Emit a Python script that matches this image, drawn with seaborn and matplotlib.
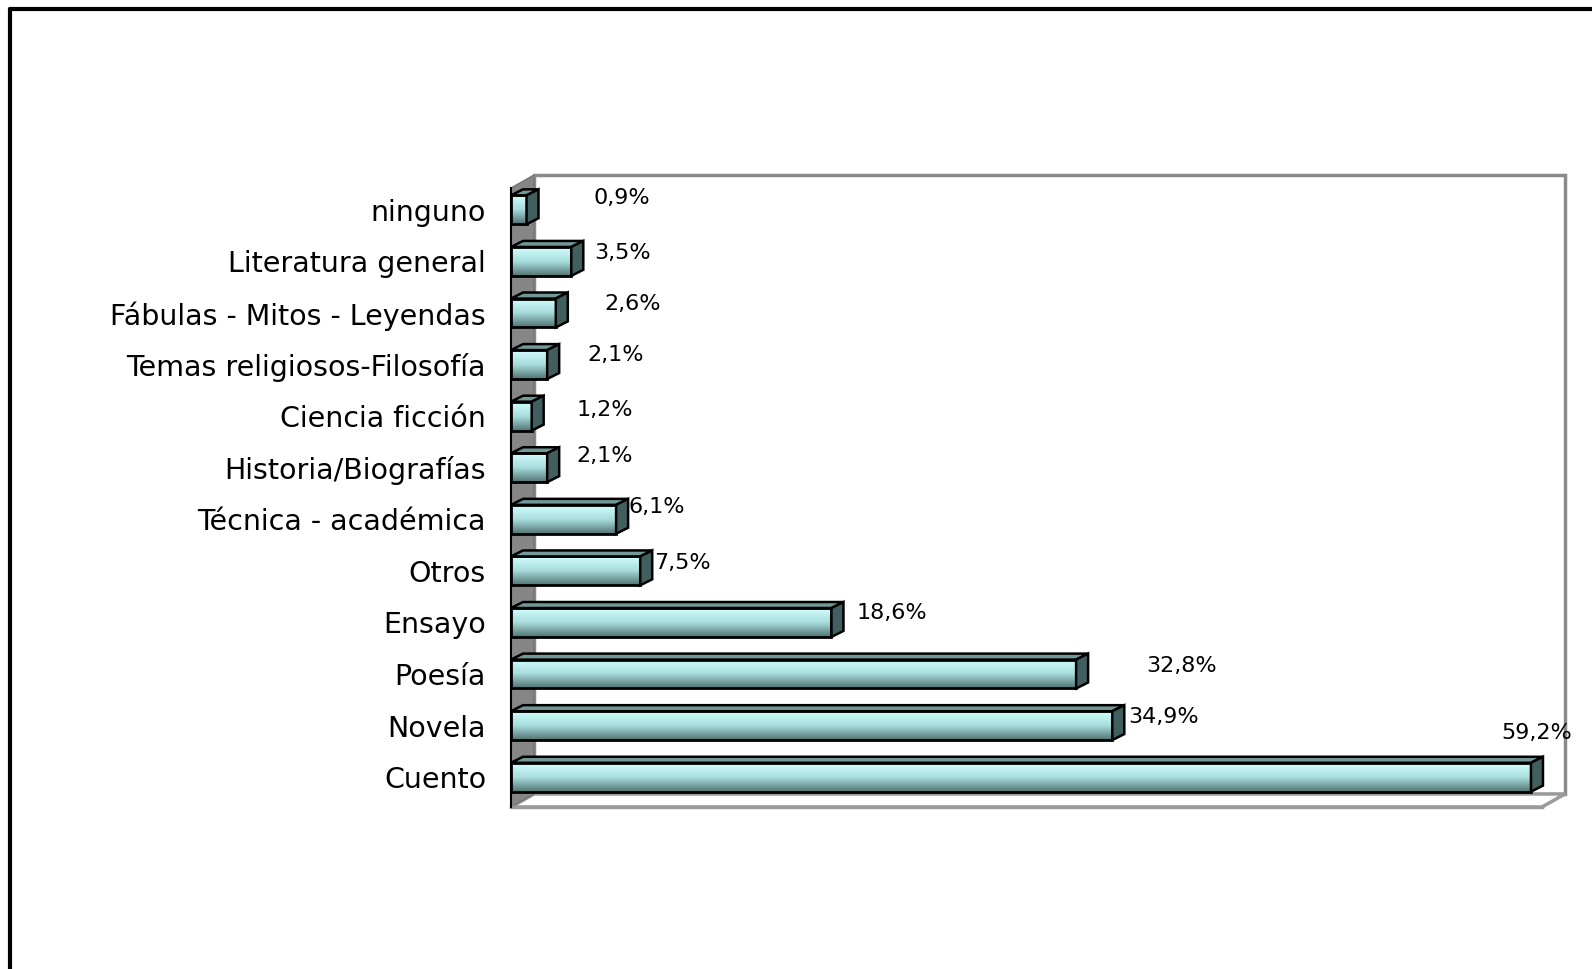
import numpy as np
import pandas as pd
import matplotlib.pyplot as plt
import matplotlib.colors as mcolors
from matplotlib.patches import Polygon
from matplotlib.lines import Line2D
import seaborn as sns

# dados (de cima para baixo, como no gráfico)
categorias = ["ninguno", "Literatura general", "Fábulas - Mitos - Leyendas",
              "Temas religiosos-Filosofía", "Ciencia ficción", "Historia/Biografías",
              "Técnica - académica", "Otros", "Ensayo", "Poesía", "Novela", "Cuento"]
porcentajes = [0.9, 3.5, 2.6, 2.1, 1.2, 2.1, 6.1, 7.5, 18.6, 32.8, 34.9, 59.2]

# deslocamento dos rótulos de valor (pixels), como estão na imagem original
rot_dx = [67, 23, 49, 40, 45, 29, 12, 14, 25, 70, 16, -30]
rot_dy = [12, 8, 9, 10, 6, 12, 12, 8, 9, 8, 9, 44]

df = pd.DataFrame({"categoria": categorias, "pct": porcentajes})

sns.set_theme(style="white")
plt.rcParams["font.family"] = ["DejaVu Sans"]

W, H = 1592, 969
fig = plt.figure(figsize=(W / 100, H / 100), dpi=100)
fig.patch.set_facecolor("white")

# área do gráfico em pixels: x 511..1542, y 188..807
ax = fig.add_axes([511 / W, 1 - 807 / H, (1542 - 511) / W, (807 - 188) / H])
ax.patch.set_visible(False)

XMAX = 59.84
Y_TOP, Y_BOT = -0.5 + 0.0775, 11.5 + 0.0775
px_x = (1542 - 511) / XMAX
px_y = (807 - 188) / 12
wx, wy = 23 / px_x, -13 / px_y     # profundidade das paredes
bx, by = 12 / px_x, -6 / px_y      # profundidade das barras

sns.barplot(data=df, x="pct", y="categoria", order=categorias, orient="h",
            width=0.56, color="white", edgecolor="black", linewidth=2, ax=ax)
barras = list(ax.patches)

# paredes 3D
parede_fundo = Polygon([(wx, Y_TOP + wy), (XMAX + wx, Y_TOP + wy),
                        (XMAX + wx, Y_BOT + wy), (wx, Y_BOT + wy)],
                       facecolor="white", edgecolor="#8a8a8a", lw=2.5, clip_on=False, zorder=0)
chao = Polygon([(0, Y_BOT), (XMAX, Y_BOT), (XMAX + wx, Y_BOT + wy), (wx, Y_BOT + wy)],
               facecolor="white", edgecolor="#9a9a9a", lw=2.5, clip_on=False, zorder=0.5)
parede_esq = Polygon([(0, Y_BOT), (0, Y_TOP), (wx, Y_TOP + wy), (wx, Y_BOT + wy)],
                     facecolor="#868686", edgecolor="#767676", lw=1, clip_on=False, zorder=0.6)
for p in (parede_fundo, chao, parede_esq):
    ax.add_patch(p)

# gradiente da face frontal
cmap = mcolors.LinearSegmentedColormap.from_list("barra", ["#d2fefe", "#a8dcdc", "#527474"])
grad = np.linspace(0, 1, 64).reshape(-1, 1)

for patch, v, dx, dy in zip(barras, porcentajes, rot_dx, rot_dy):
    w = patch.get_width()
    y0 = patch.get_y()
    h = patch.get_height()
    patch.set_facecolor("none")
    patch.set_zorder(4)
    im = ax.imshow(grad, cmap=cmap, extent=(0, w, y0 + h, y0), origin="upper",
                   aspect="auto", zorder=3, interpolation="bilinear")
    im.set_clip_path(patch)
    topo = Polygon([(0, y0), (w, y0), (w + bx, y0 + by), (bx, y0 + by)],
                   facecolor="#739898", edgecolor="black", lw=1.8, zorder=4, clip_on=False)
    lado = Polygon([(w, y0), (w + bx, y0 + by), (w + bx, y0 + h + by), (w, y0 + h)],
                   facecolor="#425f5f", edgecolor="black", lw=1.8, zorder=4, clip_on=False)
    ax.add_patch(topo)
    ax.add_patch(lado)
    ax.annotate(f"{v:.1f}%".replace(".", ","), xy=(w, y0 + h / 2),
                xytext=(dx, dy), textcoords="offset pixels",
                ha="left", va="center", fontsize=16, color="black",
                zorder=6, annotation_clip=False)

ax.set_xlim(0, XMAX)
ax.set_ylim(Y_BOT, Y_TOP)
ax.set_xticks([])
ax.set_xlabel("")
ax.set_ylabel("")
ax.set_yticks(range(len(categorias)))
ax.set_yticklabels(categorias, fontsize=20.5, color="black")
ax.set_yticks(np.arange(len(categorias) + 1) - 0.5 + 0.0775, minor=True)
ax.tick_params(axis="y", which="major", length=0, pad=18)
ax.tick_params(axis="y", which="minor", length=10.8, width=1, color="#222222", direction="out")

for lado_sp in ("top", "right"):
    ax.spines[lado_sp].set_visible(False)
ax.spines["left"].set_color("black")
ax.spines["left"].set_linewidth(1.5)
ax.spines["left"].set_zorder(5)
ax.spines["bottom"].set_color("#9a9a9a")
ax.spines["bottom"].set_linewidth(2.5)

# moldura (só esquerda e topo aparecem no recorte)
fig.add_artist(Line2D([10 / W, 10 / W], [0, 1 - 9 / H], color="black", lw=3))
fig.add_artist(Line2D([10 / W, 1], [1 - 9 / H, 1 - 9 / H], color="black", lw=3))

fig.savefig("out.png", dpi=100)
